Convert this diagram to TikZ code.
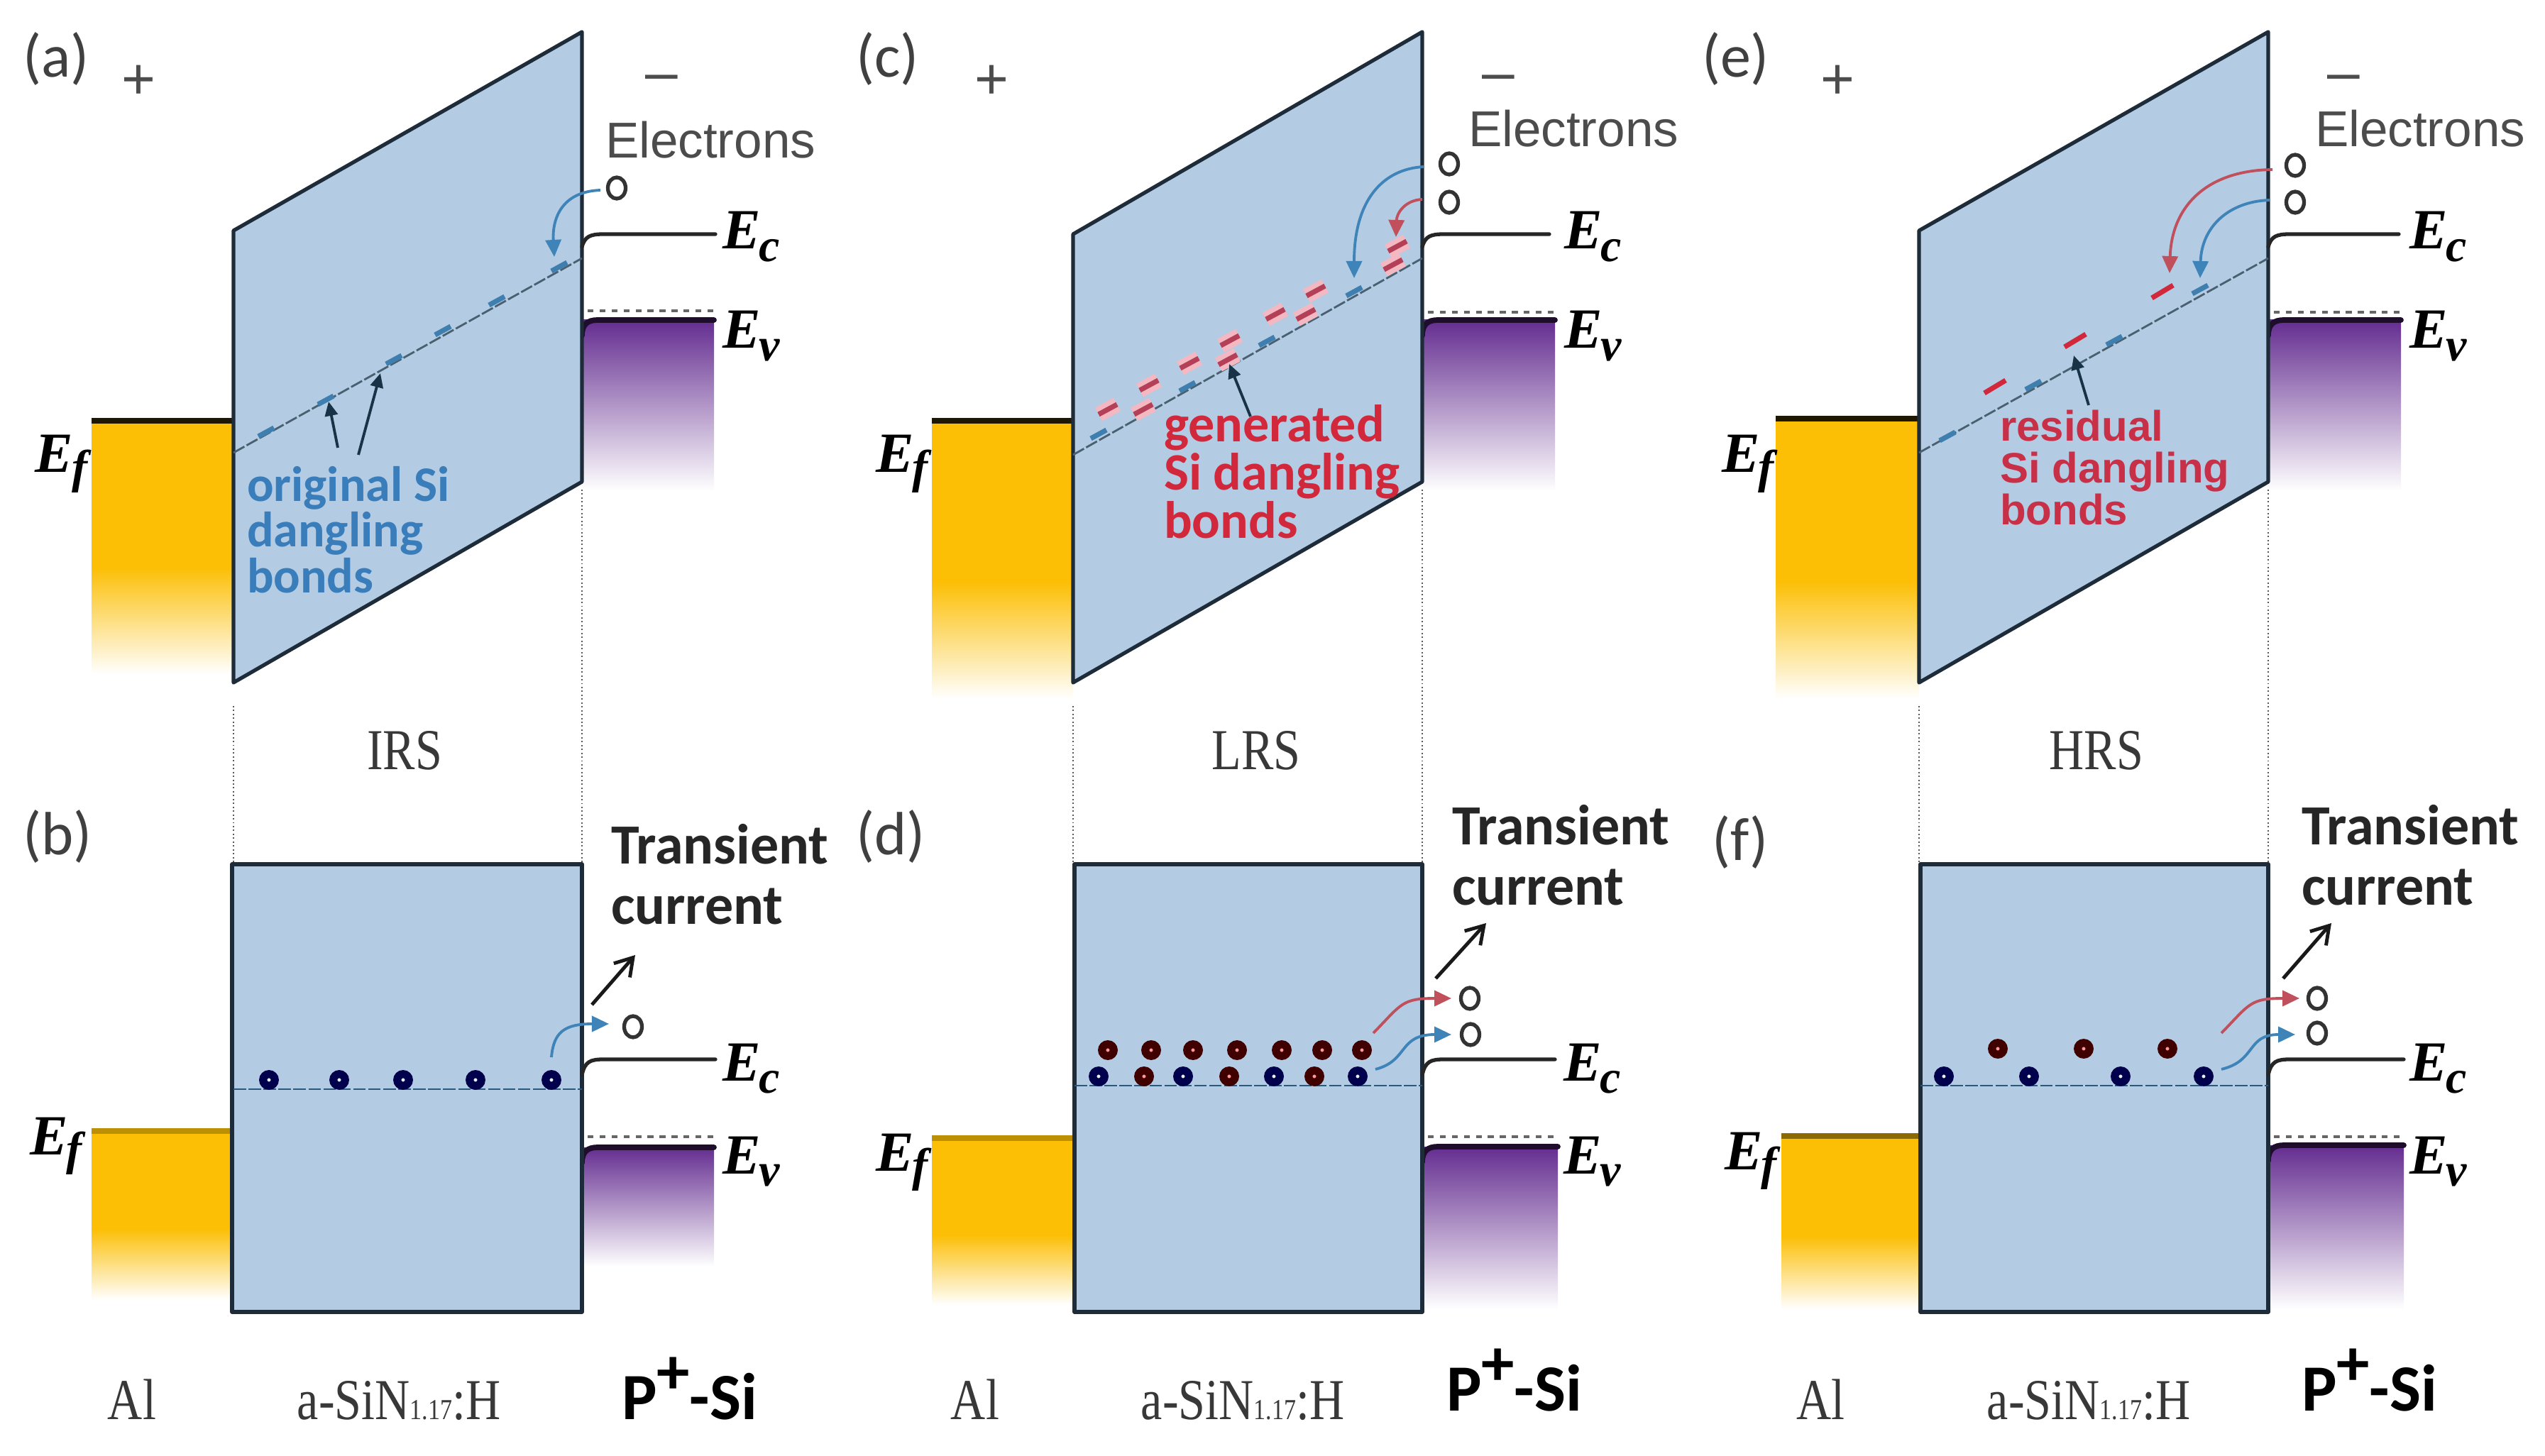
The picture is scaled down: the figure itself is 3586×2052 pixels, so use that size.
\documentclass[tikz,border=0pt]{standalone}
\usepackage{fontspec}
\setmainfont{Liberation Serif}
\newfontfamily\carlito{Carlito}
\newfontfamily\libsans{Liberation Sans}
\usetikzlibrary{arrows.meta,shapes.geometric}
\newcommand\px[2]{\fontsize{\fpeval{#1*0.28453}pt}{\fpeval{#2*0.28453}pt}\selectfont}
\newcommand\tall[1]{\scalebox{1}[1.2]{#1}}
\definecolor{sinblue}{HTML}{B4CCE3}
\definecolor{edgedark}{HTML}{1E2C3A}
\definecolor{alyellow}{HTML}{FCBF06}
\definecolor{sipurple}{HTML}{642D90}
\definecolor{sipurplemid}{HTML}{A583BE}
\definecolor{textblue}{HTML}{3A7DBB}
\definecolor{textred}{HTML}{D2283C}
\definecolor{textredb}{HTML}{C83048}
\definecolor{trapblue}{HTML}{3F7FB0}
\definecolor{trapred}{HTML}{B44058}
\definecolor{halo}{HTML}{F3B8C2}
\definecolor{arrowblue}{HTML}{3E84B8}
\definecolor{arrowred}{HTML}{C0505C}
\definecolor{slopeline}{HTML}{4A6070}
\tikzset{
  x=0.01cm,y=-0.01cm,
  panelbox/.style={fill=sinblue,draw=edgedark,line width=1.5pt,line join=round},
  bandline/.style={draw=black!85,line width=1.5pt,line cap=round},
  dotline/.style={draw=black!65,line width=0.55pt,densely dotted},
  trapline/.style={draw=#1,line width=0.8pt,dash pattern=on 5pt off 1pt},
  trapline/.default={slopeline},
  bluetrap/.style={draw=trapblue,line width=2pt},
  redtrap/.style={draw=trapred,line width=2pt,preaction={draw=halo,line width=6pt}},
  hole/.style={ellipse,draw=black!80,line width=1.5pt,fill=white,minimum width=0.25cm,minimum height=0.3cm,inner sep=0pt},
  bluedot/.style={circle,draw=blue!30!black,line width=3.2pt,fill=white!70!sinblue,minimum size=0.165cm,inner sep=0pt},
  reddot/.style={circle,draw=red!25!black,line width=3.2pt,fill=white!60!red,minimum size=0.165cm,inner sep=0pt},
  bluearrow/.style={draw=arrowblue,line width=1.1pt,-{Triangle[length=0.24cm,width=0.22cm]}},
  redarrow/.style={draw=arrowred,line width=1.1pt,-{Triangle[length=0.24cm,width=0.22cm]}},
  pointer/.style={draw=black!60!trapblue,line width=1.1pt,-{Triangle[length=0.2cm,width=0.18cm]}},
  currentarrow/.style={draw=black!90,line width=1.4pt,-{Straight Barb[length=0.24cm,width=0.3cm]}},
  txt/.style={inner sep=0pt,outer sep=0pt,anchor=base west},
  panellabel/.style={txt,text=black!75,font=\carlito\px{86}{100}},
  sign/.style={inner sep=0pt,text=black!70,font=\libsans\px{82}{90}},
  electrons/.style={txt,text=black!70,font=\libsans\px{71}{80}},
  transient/.style={txt,text=black!85,align=left,font=\carlito\bfseries\px{80}{84}},
  level/.style={txt,text=black,font=\bfseries\itshape\px{80}{90}},
  layer/.style={inner sep=0pt,outer sep=0pt,anchor=base,text=black!78,font=\px{68}{80}},
  psi/.style={txt,text=black,font=\carlito\bfseries\px{93}{100}},
  bluenote/.style={txt,text=textblue,align=left,font=\carlito\bfseries\px{70}{64}},
  rednote/.style={txt,text=textred,align=left,font=\carlito\bfseries\px{74}{64}},
  rednotetwo/.style={txt,text=textredb,align=left,font=\libsans\bfseries\px{60}{59}},
}
\newcommand\alband[5]{% x1 x2 top bottom linecolour
  \pgfmathsetmacro\almid{#3+0.58*(#4-#3)}
  \fill[alyellow] (#1,#3) rectangle (#2,\almid);
  \shade[top color=alyellow,bottom color=white] (#1,\almid) rectangle (#2,#4);
  \draw[#5,line width=2pt] (#1,#3) -- (#2,#3);
}
\newcommand\siband[5]{% x1 x2 top bottom dotted-y
  \shade[top color=sipurple,middle color=sipurplemid,bottom color=white] (#1,#3) rectangle (#2,#4);
  \draw[draw=black!70!sipurple,line width=2.2pt,line cap=round] (#1,#3+22) .. controls (#1,#3+6) and (#1+8,#3) .. (#1+22,#3) -- (#2,#3);
  \draw[draw=black!60,line width=1.1pt,dash pattern=on 2.4pt off 2.4pt] (#1+8,#5) -- (#2,#5);
}
\newcommand\ecline[4]{% x1 x2 y-hook-start y
  \draw[bandline] (#1,#3) .. controls (#1+4,#4+3) and (#1+12,#4) .. (#1+30,#4) -- (#2,#4);
}
\newcommand\levelE[2]{E\kern-0.02em\raisebox{#2}{\px{66}{70}#1}}
\begin{document}
\begin{tikzpicture}
\path[use as bounding box] (0,0) rectangle (3586,2052);
%----------------------------------------------- (a)
\alband{129}{329}{593}{950}{black!80!alyellow!60!black}
\siband{820}{1006}{451}{692}{438}
\draw[panelbox] (329,325) -- (820,45) -- (820,679) -- (329,962) -- cycle;
\draw[trapline] (329,638) -- (820,364);
\foreach \x/\y in {375/609,459/564,555/507,624/466,700/424,788/376}
  \draw[bluetrap] (\x-11,\y+6) -- (\x+11,\y-6);
\ecline{820}{1008}{348}{330}
\draw[dotline] (820,690) -- (820,1218);
\draw[dotline] (329,995) -- (329,1218);
\node[panellabel] (la) at (32,109) {(a)};
\node[sign] (pa) at (195,116) {+};
\node[sign] (ma) at (932,118) {–};
\node[electrons] (ea) at (853,223) {Electrons};
\node[hole] (ha) at (869,265) {};
\coordinate (asrc) at (846,268);
\coordinate (atrap) at (781,362);
\draw[bluearrow] (asrc) .. controls (790,270) and (778,310) .. (atrap);
\node[level] (efa) at (50,666) {\levelE{f}{-4pt}};
\node[level] (eca) at (1018,351) {\levelE{c}{-5pt}};
\node[level] (eva) at (1018,491) {\levelE{v}{-5pt}};
\node[bluenote] (na) at (348,835) {original Si\\dangling\\bonds};
\coordinate (apa) at (476,631); \coordinate (apb) at (463,566);
\coordinate (apc) at (505,641); \coordinate (apd) at (536,526);
\draw[pointer] (apa) -- (apb);
\draw[pointer] (apc) -- (apd);
\node[layer] (irs) at (570,1084) {\tall{IRS}};
%----------------------------------------------- (b)
\alband{129}{327}{1594}{1832}{alyellow!75!black}
\siband{820}{1006}{1617}{1785}{1602}
\draw[panelbox] (327,1218) rectangle (820,1849);
\draw[trapline=black!30!trapblue] (329,1535) -- (820,1535);
\foreach \x in {379,478,568,670,777}
  \node[bluedot] (b\x) at (\x,1522) {};
\ecline{820}{1008}{1515}{1493}
\node[panellabel] (lb) at (32,1204) {(b)};
\node[transient] (tb) at (861,1302) {Transient\\current};
\coordinate (bcs) at (834,1416); \coordinate (bce) at (895,1346);
\draw[currentarrow] (bcs) -- (bce);
\node[hole] (hb) at (892,1447) {};
\coordinate (bsrc) at (777,1490); \coordinate (btip) at (858,1443);
\draw[bluearrow] (bsrc) .. controls (780,1455) and (795,1443) .. (btip);
\node[level] (efb) at (42,1627) {\levelE{f}{-4pt}};
\node[level] (ecb) at (1018,1523) {\levelE{c}{-5pt}};
\node[level] (evb) at (1018,1654) {\levelE{v}{-5pt}};
\node[layer] (alb) at (186,2000) {\tall{Al}};
\node[layer] (sib) at (562,2000) {\tall{a-SiN{\px{34}{34}1.17}:H}};
\node[psi] (pb) at (876,2000) {P\raisebox{10pt}{+}-Si};
%----------------------------------------------- (c)
\alband{1313}{1512}{593}{985}{black!80!alyellow!60!black}
\siband{2004}{2191}{451}{692}{440}
\draw[panelbox] (1512,330) -- (2004,45) -- (2004,679) -- (1512,962) -- cycle;
\draw[trapline] (1512,641) -- (2004,364);
\foreach \x/\y in {1548/612,1673/545,1785/481,1908/411}
  \draw[bluetrap] (\x-11,\y+6) -- (\x+11,\y-6);
\foreach \x/\y in {1561/577,1619/543,1611/577,1676/512,1733/480,1730/507,1797/443,1854/410,1840/443,1969/347,1963/373}
  \draw[redtrap] (\x-13,\y+7) -- (\x+13,\y-7);
\ecline{2004}{2183}{348}{330}
\draw[dotline] (2004,690) -- (2004,1218);
\draw[dotline] (1512,995) -- (1512,1218);
\node[panellabel] (lc) at (1206,109) {(c)};
\node[sign] (pc) at (1397,116) {+};
\node[sign] (mc) at (2111,118) {–};
\node[electrons] (ec) at (2069,207) {Electrons};
\node[hole] (hca) at (2042,231) {};
\node[hole] (hcb) at (2042,285) {};
\coordinate (csa) at (2006,235); \coordinate (cta) at (1908,392);
\coordinate (csb) at (2004,281); \coordinate (ctb) at (1967,334);
\draw[bluearrow] (csa) .. controls (1950,238) and (1908,280) .. (cta);
\draw[redarrow] (csb) .. controls (1980,282) and (1968,300) .. (ctb);
\node[level] (efc) at (1234,666) {\levelE{f}{-4pt}};
\node[level] (ecc) at (2204,351) {\levelE{c}{-5pt}};
\node[level] (evc) at (2204,491) {\levelE{v}{-5pt}};
\node[rednote] (nc) at (1640,759) {generated\\Si dangling\\bonds};
\coordinate (cpa) at (1762,587); \coordinate (cpb) at (1732,513);
\draw[pointer] (cpa) -- (cpb);
\node[layer] (lrs) at (1770,1084) {\tall{LRS}};
%----------------------------------------------- (d)
\alband{1313}{1514}{1604}{1839}{alyellow!75!black}
\siband{2004}{2195}{1616}{1845}{1602}
\draw[panelbox] (1514,1218) rectangle (2004,1849);
\draw[trapline=black!30!trapblue] (1514,1530) -- (2004,1530);
\foreach \x in {1561,1622,1681,1743,1806,1863,1919}
  \node[reddot] (du\x) at (\x,1480) {};
\foreach \x in {1548,1667,1795,1913}
  \node[bluedot] (db\x) at (\x,1517) {};
\foreach \x in {1612,1732,1852}
  \node[reddot] (dr\x) at (\x,1517) {};
\ecline{2004}{2191}{1515}{1493}
\node[panellabel] (ld) at (1206,1204) {(d)};
\node[transient] (td) at (2046,1275) {Transient\\current};
\coordinate (dcs) at (2023,1379); \coordinate (dce) at (2094,1301);
\draw[currentarrow] (dcs) -- (dce);
\node[hole] (hda) at (2071,1407) {};
\node[hole] (hdb) at (2072,1458) {};
\coordinate (dsa) at (1935,1456); \coordinate (dta) at (2045,1407);
\coordinate (dsb) at (1938,1507); \coordinate (dtb) at (2045,1458);
\draw[redarrow] (dsa) .. controls (1975,1415) and (1975,1407) .. (dta);
\draw[bluearrow] (dsb) .. controls (1985,1495) and (1970,1458) .. (dtb);
\node[level] (efd) at (1234,1650) {\levelE{f}{-4pt}};
\node[level] (ecd) at (2203,1523) {\levelE{c}{-5pt}};
\node[level] (evd) at (2203,1654) {\levelE{v}{-5pt}};
\node[layer] (ald) at (1374,2000) {\tall{Al}};
\node[layer] (sid) at (1751,2000) {\tall{a-SiN{\px{34}{34}1.17}:H}};
\node[psi] (pd) at (2038,1988) {P\raisebox{10pt}{+}-Si};
%----------------------------------------------- (e)
\alband{2502}{2704}{590}{985}{black!80!alyellow!60!black}
\siband{3196}{3383}{451}{692}{440}
\draw[panelbox] (2704,325) -- (3196,45) -- (3196,679) -- (2704,962) -- cycle;
\draw[trapline] (2704,638) -- (3196,364);
\foreach \x/\y in {2744/615,2865/543,2979/480,3100/408}
  \draw[bluetrap] (\x-11,\y+6) -- (\x+11,\y-6);
\foreach \x/\y in {2811/545,2924/480,3047/411}
  \draw[draw=textred,line width=2pt] (\x-15,\y+9) -- (\x+15,\y-9);
\ecline{3196}{3380}{348}{330}
\draw[dotline] (3196,690) -- (3196,1218);
\draw[dotline] (2704,995) -- (2704,1218);
\node[panellabel] (le) at (2398,109) {(e)};
\node[sign] (pe) at (2589,116) {+};
\node[sign] (me) at (3302,118) {–};
\node[electrons] (ee) at (3262,207) {Electrons};
\node[hole] (hea) at (3234,233) {};
\node[hole] (heb) at (3234,285) {};
\coordinate (esa) at (3202,239); \coordinate (eta) at (3057,385);
\coordinate (esb) at (3198,282); \coordinate (etb) at (3100,392);
\draw[redarrow] (esa) .. controls (3110,240) and (3060,290) .. (eta);
\draw[bluearrow] (esb) .. controls (3140,284) and (3102,320) .. (etb);
\node[level] (efe) at (2426,666) {\levelE{f}{-4pt}};
\node[level] (ece) at (3395,351) {\levelE{c}{-5pt}};
\node[level] (eve) at (3395,491) {\levelE{v}{-5pt}};
\node[rednotetwo] (ne) at (2818,740) {residual\\Si dangling\\bonds};
\coordinate (epa) at (2943,571); \coordinate (epb) at (2922,501);
\draw[pointer] (epa) -- (epb);
\node[layer] (hrs) at (2954,1084) {\tall{HRS}};
%----------------------------------------------- (f)
\alband{2510}{2706}{1601}{1845}{alyellow!55!black}
\siband{3196}{3387}{1614}{1845}{1602}
\draw[panelbox] (2706,1218) rectangle (3196,1849);
\draw[trapline=black!30!trapblue] (2706,1530) -- (3196,1530);
\foreach \x in {2815,2936,3054}
  \node[reddot] (fu\x) at (\x,1478) {};
\foreach \x in {2739,2859,2988,3105}
  \node[bluedot] (fb\x) at (\x,1517) {};
\ecline{3196}{3387}{1515}{1493}
\node[panellabel] (lf) at (2412,1212) {(f)};
\node[transient] (tf) at (3243,1275) {Transient\\current};
\coordinate (fcs) at (3217,1379); \coordinate (fce) at (3285,1301);
\draw[currentarrow] (fcs) -- (fce);
\node[hole] (hfa) at (3265,1407) {};
\node[hole] (hfb) at (3265,1456) {};
\coordinate (fsa) at (3130,1456); \coordinate (fta) at (3240,1407);
\coordinate (fsb) at (3130,1507); \coordinate (ftb) at (3234,1458);
\draw[redarrow] (fsa) .. controls (3170,1415) and (3170,1407) .. (fta);
\draw[bluearrow] (fsb) .. controls (3180,1495) and (3165,1458) .. (ftb);
\node[level] (eff) at (2430,1648) {\levelE{f}{-4pt}};
\node[level] (ecf) at (3395,1523) {\levelE{c}{-5pt}};
\node[level] (evf) at (3395,1654) {\levelE{v}{-5pt}};
\node[layer] (alf) at (2565,2000) {\tall{Al}};
\node[layer] (sif) at (2943,2000) {\tall{a-SiN{\px{34}{34}1.17}:H}};
\node[psi] (pf) at (3243,1988) {P\raisebox{10pt}{+}-Si};
\end{tikzpicture}
\end{document}
